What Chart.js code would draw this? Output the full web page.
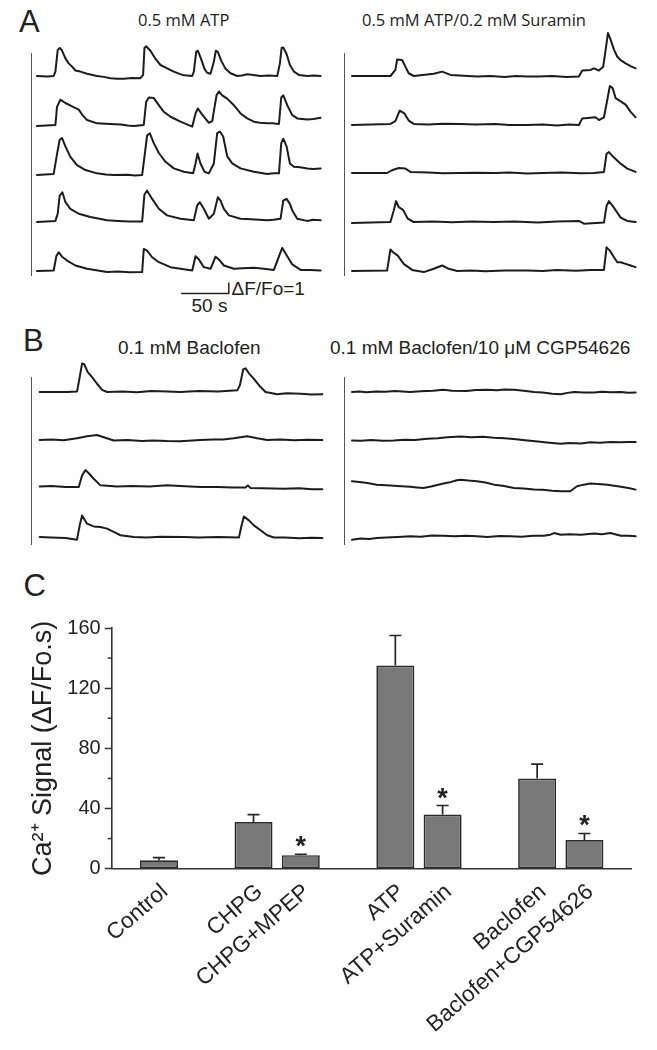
<!DOCTYPE html>
<html>
<head>
<meta charset="utf-8">
<script src="https://cdn.jsdelivr.net/npm/chart.js@4.4.1/dist/chart.umd.min.js"></script>
<style>
  html, body { margin: 0; padding: 0; background: #fff; }
  #fig { position: relative; width: 657px; height: 1050px; overflow: hidden; background: #fff; }
  .txt { position: absolute; white-space: nowrap; color: #222; line-height: 1; }
  .sans { font-family: "Liberation Sans", Arial, sans-serif; }
  .open { font-family: "Open Sans", sans-serif; }
  .vline { position: absolute; width: 0; border-left: 1.5px solid #555; }
  canvas { position: absolute; }
</style>
</head>
<body>
<div id="fig">
  <div class="txt sans" style="left:19px;top:6px;font-size:31px;">A</div>
  <div class="txt open" style="left:138px;top:12px;font-size:16.5px;">0.5 mM ATP</div>
  <div class="txt open" style="left:362px;top:12px;font-size:16.5px;">0.5 mM ATP/0.2 mM Suramin</div>
  <div class="txt sans" style="left:231.5px;top:279px;font-size:19px;">ΔF/Fo=1</div>
  <div class="txt sans" style="left:191.5px;top:295.5px;font-size:19px;">50 s</div>
  <div class="txt sans" style="left:23px;top:325px;font-size:31px;">B</div>
  <div class="txt sans" style="left:118px;top:337.5px;font-size:19px;">0.1 mM Baclofen</div>
  <div class="txt sans" style="left:330px;top:337.5px;font-size:19px;">0.1 mM Baclofen/10 μM CGP54626</div>
  <div class="txt sans" style="left:23.5px;top:570px;font-size:31px;">C</div>

  <div class="vline" style="left:31px;top:53px;height:223px;"></div>
  <div class="vline" style="left:344px;top:53px;height:223px;"></div>
  <div class="vline" style="left:31px;top:377px;height:168px;"></div>
  <div class="vline" style="left:344px;top:377px;height:168px;"></div>
</div>
<script>
// ---------------- DATA ----------------
// Traces: [time (s), ΔF/Fo]
const atpCell1 = [[0,0],[10.5,-0.05],[17.5,0],[19.3,0.4],[21.7,2.35],[23.8,2.55],[26.3,2.3],[29.8,1.6],[33.3,1.15],[36.8,0.85],[40.3,0.5],[45.5,0.4],[52.5,0.2],[63,0],[70,-0.08],[77,-0.2],[84,-0.25],[91,-0.25],[100,-0.18],[108.5,-0.2],[111.3,0.1],[112.7,2.55],[114.5,2.7],[119,2.3],[124.3,1.55],[129.5,1.0],[136.5,0.7],[143.5,0.4],[152.3,0.1],[162.8,0],[164.5,0.4],[167,2.2],[168.7,2.3],[171.5,1.7],[175.7,0.65],[178.5,0.3],[182,0.2],[185.5,1.3],[187.6,2.3],[189.7,2.2],[193.2,1.4],[197.8,0.65],[203,0.25],[210,0],[215,0.05],[220.5,0.15],[227,0.1],[234.5,0],[243,0.05],[252,0],[254.8,1.15],[256.6,2.55],[258.3,2.6],[261.8,2.0],[265.3,1.0],[269.5,0.4],[274.8,0.1],[283.5,0],[290,0.05],[297.5,0]];
const atpCell2 = [[0,-0.1],[19.3,0],[21,1.65],[24.5,2.3],[29.8,2.0],[36.8,1.7],[43.8,1.4],[47.3,0.95],[52.5,0.45],[63,0.15],[77,0.1],[88,0.05],[95,-0.05],[101.5,-0.1],[112,0],[114.5,2.1],[117.3,2.5],[122.5,2.45],[127.8,1.8],[133,1.2],[140,0.75],[150.5,0.3],[162.8,-0.15],[166.3,1.05],[168.7,1.5],[173.3,0.95],[180.3,0.2],[183.8,0.35],[188.3,2.7],[190.8,3.05],[194.3,2.7],[199.5,2.4],[206.5,1.8],[213.5,1.05],[220.5,0.6],[227.5,0.3],[234,0.2],[241.5,0.15],[247,0.15],[253.8,0.1],[256.2,2.5],[258.3,2.7],[262.5,1.8],[267.8,0.9],[273,0.6],[283.5,0.5],[290,0.55],[297.5,0.65]];
const atpCell3 = [[0,0],[17.5,0.1],[21,1.9],[23.8,3.2],[26.3,3.35],[29.8,2.6],[35,1.65],[42,0.9],[50.8,0.45],[63,0.15],[72,0.05],[80.5,0],[95,0.02],[103,-0.05],[110.3,0],[112.7,1.65],[115.5,3.6],[118.3,3.8],[122.5,2.9],[127.8,2.0],[134.8,1.2],[143.5,0.6],[154,0.3],[163.8,0.15],[166.3,1.05],[168.4,1.95],[171.5,1.05],[175.7,0.3],[180.3,0.15],[185.5,1.05],[189,3.8],[191.8,3.95],[195.3,3.5],[199.5,1.7],[204.8,1.05],[213.5,0.6],[227.5,0.3],[234,0.2],[241.5,0.1],[248,0.15],[253.8,0.15],[256.2,2.9],[258.3,3.3],[261.8,2.6],[265.3,1.05],[269.5,0.75],[276,0.7],[283.5,0.6],[290,0.55],[297.5,0.6]];
const atpCell4 = [[0,0],[19.3,0.1],[21.7,0.75],[23.8,2.4],[26.6,2.7],[29.8,1.8],[35,1.2],[43.8,0.75],[56,0.45],[73.5,0.15],[85,0.1],[97,0.05],[110.3,0.05],[112.7,2.5],[115.5,2.85],[120.8,2.1],[127.8,1.2],[136.5,0.6],[150.5,0.3],[164.5,0.15],[168,1.5],[170.8,1.8],[175,1.2],[180.3,0.3],[185.5,0.75],[189.7,2.25],[192.5,1.95],[196,1.2],[201.3,0.6],[213.5,0.3],[225,0.25],[233,0.2],[241.5,0.15],[248,0.2],[255.5,0.3],[258.3,1.95],[261.8,2.1],[265.3,1.65],[267.8,1.05],[273,0.3],[283,0.1],[290,0.2],[297.5,0.15]];
const atpCell5 = [[0,0],[17.5,0.05],[20.3,1.35],[22.8,1.7],[26.3,1.3],[31.5,0.95],[40.3,0.5],[52.5,0.2],[73.5,-0.1],[85,-0.05],[97,-0.12],[110.3,-0.1],[112,2.0],[115.5,1.85],[120.8,1.25],[127.8,0.8],[140,0.35],[162.8,0.05],[166.3,1.35],[169.8,1.05],[175,0.35],[182,0.2],[187.3,1.3],[190.8,1.05],[196,0.5],[206.5,0.2],[216,0.25],[227.5,0.3],[238,0.2],[248.5,0.1],[254.8,1.55],[257.3,2.1],[262.5,1.35],[267.8,0.6],[276.5,0.1],[286,0.1],[297.5,0.05]];

const suraminCell1 = [[0,0],[40.3,0],[45.5,0.55],[47.3,1.5],[52.5,1.45],[56,0.85],[59.5,0.25],[64.8,0],[85.8,0.2],[94.5,0.4],[103.3,0.1],[131.3,-0.05],[145,0],[160,-0.08],[172,0],[183.8,-0.05],[195,-0.05],[210,0],[225,-0.08],[238,-0.05],[241.5,0.5],[250.3,0.55],[253.8,0.7],[259,0.5],[263.5,0.85],[266,2.35],[268.5,3.9],[271.3,3.3],[274.8,2.4],[278.3,1.75],[281.8,1.45],[287,1.15],[292.3,0.9],[297.5,0.7]];
const suraminCell2 = [[0,0],[40.3,0.1],[45.5,0.35],[50,1.3],[55,1.05],[59.5,0.4],[64.8,0.1],[80,0.05],[95,0.12],[113.8,0.1],[130,0.05],[150,0.1],[165,0],[183.8,0],[200,0.05],[215,-0.05],[228,0.05],[238,0],[241.5,0.6],[255.5,0.7],[259,0.45],[264.3,0.7],[267.8,2.3],[270.5,3.55],[273.4,3.35],[276.5,2.45],[281.8,2.15],[287,1.85],[292.3,1.2],[297.5,0.7]];
const suraminCell3 = [[0,0],[36.8,0],[42,0.25],[49,0.45],[56,0.4],[61.3,0.1],[80,0.05],[95,-0.03],[113.8,0],[130,0.03],[150,0],[165,0.05],[183.8,-0.05],[200,0],[220,0.05],[240,-0.03],[253.8,0],[264.3,0.1],[267,1.75],[269.5,1.9],[274.8,1.4],[281.8,0.85],[288.8,0.4],[297.5,0.1]];
const suraminCell4 = [[0,-0.1],[40.3,0],[43.8,1.05],[46.2,1.9],[49,1.35],[53.6,1.1],[58.5,0.3],[64.8,0],[85,0.05],[105,-0.03],[125,0.05],[148.8,0],[170,0.05],[195,-0.05],[215,0.05],[238,0.1],[243.3,-0.15],[264.3,-0.05],[267,1.45],[269.5,1.9],[274.8,1.3],[281.8,0.4],[288.8,0.1],[297.5,0]];
const suraminCell5 = [[0,0],[36.8,0.05],[40.3,1.95],[43,1.7],[48,1.4],[54.3,0.65],[63,0.1],[75.3,-0.1],[85.8,0.2],[94.5,0.5],[101.5,0.2],[110.3,0],[125,0.05],[140,-0.02],[160,0.05],[183.8,0.05],[200,0],[215,0.1],[235,0.02],[250,0.08],[264.3,0.1],[267,2.15],[270.5,1.85],[274.8,1.25],[278.3,0.8],[281.8,0.8],[287,0.65],[292.3,0.5],[297.5,0.35]];

const baclofenCell1 = [[2.8,0],[31.5,0],[42,0.05],[44.8,1.35],[47.3,2.6],[49.7,2.5],[53.2,1.8],[57.8,1.35],[63,0.75],[68.3,0.2],[73.5,0],[90,0.05],[105,-0.02],[120,0.08],[136.5,0.05],[150,0],[170,0.08],[190,0.05],[210,0.15],[212.8,0.6],[216.3,2.05],[218.8,2.15],[222.3,1.7],[227.5,1.2],[234.5,0.45],[239.8,0],[252,-0.2],[262,-0.12],[276.5,-0.15],[288,-0.22],[299.3,-0.2]];
const baclofenCell2 = [[2.8,0],[15,0.05],[28,-0.02],[42,0.15],[52.5,0.35],[63,0.45],[70,0.25],[80.5,-0.05],[95,0],[110,-0.1],[122,-0.05],[136.5,-0.1],[150,-0.12],[171.5,0],[185,0.05],[195,0.05],[206.5,0.15],[220.5,0.35],[231,0.15],[241.5,0],[255,0.05],[270,-0.02],[285,0.03],[299.3,0]];
const baclofenCell3 = [[2.8,0.05],[15,0.1],[30,0],[43.8,0],[47.3,1.05],[50.8,1.55],[54.3,1.25],[59.5,0.75],[66.5,0.15],[84,0.05],[100,0.1],[118,0.05],[136.5,0.15],[150,0.1],[171.5,0],[190,0],[205,-0.05],[218.8,-0.05],[221.2,0.15],[224,-0.1],[259,-0.15],[275,-0.12],[288,-0.2],[299.3,-0.2]];
const baclofenCell4 = [[2.8,0.1],[15,0.05],[30,0],[42,-0.15],[44.8,1.15],[47.3,2.05],[52.5,1.3],[59.5,1.05],[66.5,1.0],[73.5,0.85],[80.5,0.55],[87.5,0.25],[101.5,0.1],[115,0.05],[130,0.12],[154,0.1],[170,0.05],[190,0.1],[211.8,0.05],[214.2,1.0],[217,1.95],[222.3,1.6],[227.5,1.15],[234.5,0.7],[241.5,0.25],[248.5,0.05],[260,0.05],[275,-0.02],[288,0.03],[299.3,0]];

const cgpCell1 = [[0,0],[8,0.05],[15,-0.03],[26,0.05],[35,0.02],[45,0.08],[61,0],[72,0.06],[85,0.12],[96,0.2],[105,0.12],[120,0.1],[130,0.18],[142,0.2],[152,0.15],[160,0.22],[170,0.2],[180,0.12],[191,0],[200,-0.05],[210,-0.15],[219,-0.2],[226,-0.08],[233,0],[243,-0.05],[254,-0.05],[262,0.03],[272,-0.02],[282,0],[290,-0.06],[297.5,-0.05]];
const cgpCell2 = [[0,0.05],[10,0.02],[20,0.08],[32,0.03],[44,0.05],[55,0.12],[66,0.1],[79,0.2],[90,0.25],[100,0.35],[114,0.4],[125,0.33],[137,0.38],[149,0.3],[160,0.25],[172,0.15],[184,0.05],[195,-0.05],[207,-0.15],[219,-0.25],[228,-0.18],[240,-0.22],[250,-0.12],[260,-0.15],[271,-0.1],[281,-0.12],[290,-0.08],[297.5,-0.1]];
const cgpCell3 = [[0,0.15],[8,0.1],[16,0],[26,-0.15],[36,-0.2],[48,-0.28],[61,-0.35],[68,-0.4],[75,-0.45],[84,-0.3],[96,-0.05],[104,0.1],[110,0.25],[114,0.3],[122,0.22],[131,0.15],[140,0.05],[149,-0.15],[158,-0.25],[170,-0.45],[180,-0.5],[191,-0.6],[200,-0.62],[210,-0.7],[219,-0.75],[229,-0.75],[236,-0.3],[243,-0.15],[250,-0.05],[258,-0.08],[268,-0.15],[275,-0.25],[282,-0.35],[290,-0.45],[297.5,-0.6]];
const cgpCell4 = [[0,-0.15],[9,-0.05],[18,-0.1],[26,0],[36,0.05],[48,0.1],[61,0.15],[72,0.12],[84,0.22],[96,0.2],[108,0.15],[120,0.2],[131,0.15],[142,0.1],[155,0.18],[166,0.15],[178,0.12],[190,0.2],[201,0.2],[208,0.3],[212,0.45],[219,0.3],[228,0.35],[240,0.3],[254,0.4],[262,0.35],[271,0.45],[282,0.2],[290,0.2],[297.5,0.15]];

// Scale bar values
const scaleBarSeconds = 50;
const scaleBarDeltaF = 1;

// Panel C
const conditions = ['Control', 'CHPG', 'CHPG+MPEP', 'ATP', 'ATP+Suramin', 'Baclofen', 'Baclofen+CGP54626'];
const conditionGroup = [0, 1, 1, 2, 2, 3, 3];
const meanSignal = [5.6, 31, 9, 135, 36, 60, 19];
const semSignal = [1.7, 5, 0.6, 20, 6, 9.5, 4.4];
const significant = [false, false, true, false, true, false, true];
const yMajorTicks = [0, 40, 80, 120, 160];

// ---------------- LAYOUT ----------------
const fig = document.getElementById('fig');
const TIME_MAX = 300;           // s across trace width
const TRACE_W = 285.7;          // px for TIME_MAX
const PX_PER_DF = 11;           // px per ΔF/Fo = 1
const FONT = '"Liberation Sans", Arial, sans-serif';

function addCanvas(left, top, w, h) {
  const c = document.createElement('canvas');
  c.width = Math.round(w); c.height = Math.round(h);
  c.style.left = left + 'px'; c.style.top = top + 'px';
  c.style.width = Math.round(w) + 'px'; c.style.height = Math.round(h) + 'px';
  fig.appendChild(c);
  return c;
}

function traceChart(x0, baseline, pts, extra) {
  const padX = 6, above = 52, below = 32;
  const c = addCanvas(x0 - padX, baseline - above, TRACE_W + 2 * padX, above + below);
  const datasets = [{
    data: pts.map(p => ({ x: p[0], y: p[1] })),
    borderColor: '#1c1c1c', borderWidth: 2, pointRadius: 0, tension: 0,
    clip: false, borderJoinStyle: 'round', borderCapStyle: 'round'
  }];
  if (extra) datasets.push(extra);
  return new Chart(c, {
    type: 'line',
    data: { datasets },
    options: {
      responsive: false, animation: false, events: [], devicePixelRatio: 1,
      layout: { padding: { left: padX, right: padX, top: 0, bottom: 0 } },
      scales: {
        x: { type: 'linear', min: 0, max: TIME_MAX, display: false },
        y: { type: 'linear', min: -below / PX_PER_DF, max: above / PX_PER_DF, display: false }
      },
      plugins: { legend: { display: false }, tooltip: { enabled: false } }
    }
  });
}

const colLeft = [36.7, 352];
const baseA = [[76, 125, 175, 221.7, 270.7], [76, 125, 172.7, 221.7, 270.7]];
const baseB = [[391.7, 440, 486.7, 537.7], [391.7, 440.7, 483.3, 538.3]];

const atpCells = [atpCell1, atpCell2, atpCell3, atpCell4, atpCell5];
const suraminCells = [suraminCell1, suraminCell2, suraminCell3, suraminCell4, suraminCell5];
const baclofenCells = [baclofenCell1, baclofenCell2, baclofenCell3, baclofenCell4];
const cgpCells = [cgpCell1, cgpCell2, cgpCell3, cgpCell4];

// scale bar placed under last ATP trace
const sbStart = 151.2, sbLevel = -2.05;
const scaleBarSet = {
  data: [{ x: sbStart, y: sbLevel }, { x: sbStart + scaleBarSeconds, y: sbLevel }, { x: sbStart + scaleBarSeconds, y: sbLevel + scaleBarDeltaF }],
  borderColor: '#222', borderWidth: 1.5, pointRadius: 0, tension: 0, clip: false
};

atpCells.forEach((d, i) => traceChart(colLeft[0], baseA[0][i], d, i === atpCells.length - 1 ? scaleBarSet : null));
suraminCells.forEach((d, i) => traceChart(colLeft[1], baseA[1][i], d));
baclofenCells.forEach((d, i) => traceChart(colLeft[0], baseB[0][i], d));
cgpCells.forEach((d, i) => traceChart(colLeft[1], baseB[1][i], d));

// ---------------- PANEL C ----------------
const labels = [''];
const values = [null];
const condIndexAt = [-1];
conditions.forEach((name, i) => {
  if (i > 0 && conditionGroup[i] !== conditionGroup[i - 1]) { labels.push(''); values.push(null); condIndexAt.push(-1); }
  labels.push(name); values.push(meanSignal[i]); condIndexAt.push(i);
});
labels.push(''); values.push(null); condIndexAt.push(-1);

const C_TOP = 600, C_H = 450, C_W = 657;
const AREA = { left: 111.7, right: 631.7, top: 628, bottom: 868.7 };

const errorBarPlugin = {
  id: 'errorBars',
  afterDatasetsDraw(chart) {
    const ctx = chart.ctx, ys = chart.scales.y;
    const meta = chart.getDatasetMeta(0);
    ctx.save();
    ctx.strokeStyle = '#262626'; ctx.lineWidth = 1.7; ctx.fillStyle = '#222';
    meta.data.forEach((el, k) => {
      const ci = condIndexAt[k];
      if (ci < 0) return;
      const top = el.y;
      const yErr = ys.getPixelForValue(meanSignal[ci] + semSignal[ci]);
      ctx.beginPath();
      ctx.moveTo(el.x, top); ctx.lineTo(el.x, yErr);
      ctx.moveTo(el.x - 6, yErr); ctx.lineTo(el.x + 6, yErr);
      ctx.stroke();
      if (significant[ci]) {
        ctx.font = 'bold 27px ' + FONT;
        ctx.textAlign = 'center'; ctx.textBaseline = 'alphabetic';
        ctx.fillText('*', el.x, yErr + 1);
      }
    });
    // minor ticks on the y axis
    ctx.lineWidth = 1.5; ctx.strokeStyle = '#333';
    for (let v = 20; v < 160; v += 40) {
      const y = ys.getPixelForValue(v);
      ctx.beginPath(); ctx.moveTo(ys.right - 4, y); ctx.lineTo(ys.right, y); ctx.stroke();
    }
    ctx.restore();
  }
};

const cCanvas = addCanvas(0, C_TOP, C_W, C_H);
new Chart(cCanvas, {
  type: 'bar',
  data: {
    labels,
    datasets: [{
      data: values,
      backgroundColor: '#787878', borderColor: '#2a2a2a', borderWidth: 1.7, borderSkipped: false,
      barPercentage: 0.804, categoryPercentage: 1
    }]
  },
  options: {
    responsive: false, animation: false, events: [], devicePixelRatio: 1,
    layout: { padding: { top: AREA.top - C_TOP, right: C_W - AREA.right, left: 0, bottom: 0 } },
    scales: {
      x: {
        type: 'category', offset: false,
        grid: { display: false },
        border: { display: true, color: '#333', width: 1.6 },
        ticks: { autoSkip: false, maxRotation: 41, minRotation: 41, padding: 2, labelOffset: 6, color: '#222', font: { family: FONT, size: 22.5 } },
        afterFit(s) { s.height = C_TOP + C_H - AREA.bottom; }
      },
      y: {
        min: 0, max: 160,
        ticks: { stepSize: 20, padding: 4, color: '#222', font: { family: FONT, size: 20 },
          callback: v => yMajorTicks.includes(v) ? String(v) : '' },
        grid: { display: true, drawOnChartArea: false, drawTicks: true, tickLength: 7, tickWidth: 1.5,
          tickColor: c => (c.tick && yMajorTicks.includes(c.tick.value)) ? '#333' : 'rgba(0,0,0,0)' },
        border: { display: true, color: '#333', width: 1.6 },
        title: { display: true, text: 'Ca²⁺ Signal (ΔF/Fo.s)', color: '#222', font: { family: FONT, size: 27 }, padding: { top: 27, bottom: 0 } },
        afterFit(s) { s.width = AREA.left; }
      }
    },
    plugins: { legend: { display: false }, tooltip: { enabled: false } }
  },
  plugins: [errorBarPlugin]
});
</script>
</body>
</html>
